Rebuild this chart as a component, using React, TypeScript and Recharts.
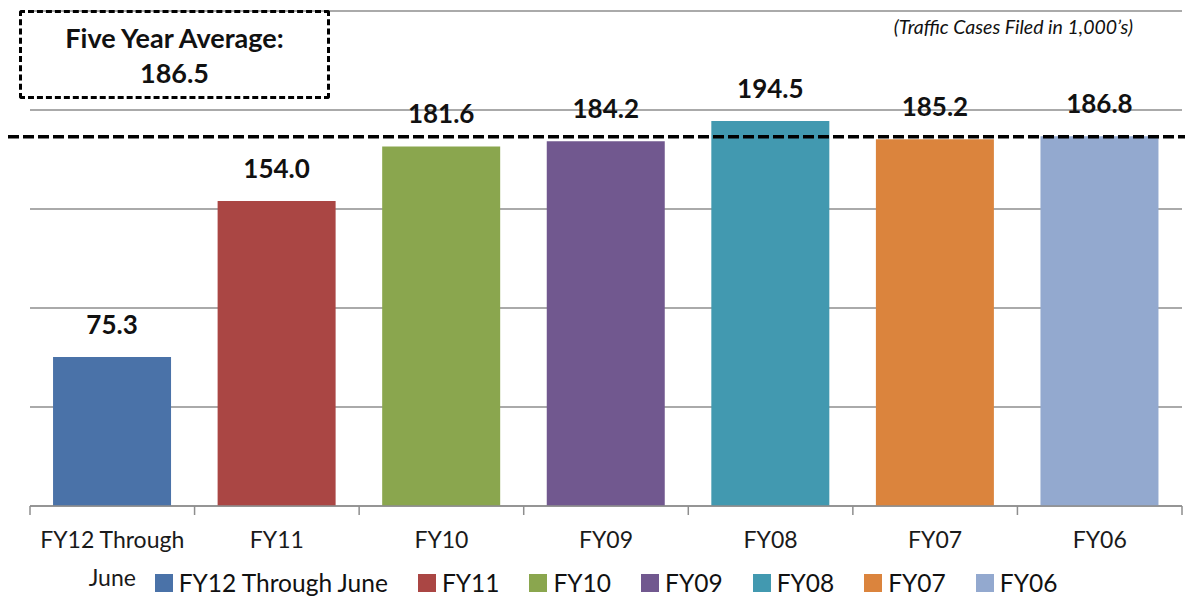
import React from 'react';
import {
  BarChart,
  Bar,
  XAxis,
  YAxis,
  CartesianGrid,
  Cell,
  LabelList,
  Legend,
  ReferenceLine,
} from 'recharts';

// Traffic cases filed per fiscal year, in thousands
const categories = ['FY12 Through June', 'FY11', 'FY10', 'FY09', 'FY08', 'FY07', 'FY06'];
const casesFiled = [75.3, 154.0, 181.6, 184.2, 194.5, 185.2, 186.8];
const barColors = ['#4A72A8', '#AA4644', '#8AA64E', '#71588F', '#4299B0', '#DB843D', '#93A9CF'];
const yTicks = [0, 50, 100, 150, 200, 250];
const fiveYearAverage = 186.5;
const averageTitle = 'Five Year Average:';
const unitsNote = '(Traffic Cases Filed in 1,000\u2019s)';

const data = categories.map((name, i) => ({ name, value: casesFiled[i], slot: i }));
const slotEdges = [...categories.map((_, i) => i), categories.length];

const FONT = 'Lato, "Open Sans", "Liberation Sans", sans-serif';
const W = 1185;
const H = 599;
const GRID = '#8e8e8e';
const EDGE_AXIS = 0;
const LABEL_AXIS = 1;

// greedy word wrap for long category names
const wrapWords = (label: string, maxChars: number) => {
  const lines: string[] = [];
  label.split(' ').forEach((word) => {
    const last = lines[lines.length - 1];
    if (last !== undefined && (last + ' ' + word).length <= maxChars) {
      lines[lines.length - 1] = last + ' ' + word;
    } else {
      lines.push(word);
    }
  });
  return lines;
};

const CategoryTick = (props: any) => {
  const { x, y, payload } = props;
  const lines = wrapWords(String(payload.value), 12);
  return (
    <text
      x={x}
      y={y + 41}
      textAnchor="middle"
      fontSize={23}
      fontFamily={FONT}
      fill="#1a1a1a"
    >
      {lines.map((line, i) => (
        <tspan key={i} x={x} dy={i === 0 ? 0 : 38}>
          {line}
        </tspan>
      ))}
    </text>
  );
};

// short tick marks between categories, hanging below the baseline
const EdgeTick = (props: any) => {
  const { x, y } = props;
  return <line x1={x} x2={x} y1={y} y2={y + 9} stroke={GRID} strokeWidth={1.5} />;
};

const ValueLabel = (props: any) => {
  const { x, y, width, value } = props;
  return (
    <text
      x={Number(x) + Number(width) / 2}
      y={Number(y) - 33}
      textAnchor="middle"
      dominantBaseline="central"
      fontSize={26}
      fontWeight={700}
      fontFamily={FONT}
      fill="#111"
    >
      {Number(value).toFixed(1)}
    </text>
  );
};

const AverageLine = (props: any) => {
  const { x1, x2, y1 } = props;
  return (
    <line
      x1={Number(x1) - 22}
      x2={Number(x2) + 3}
      y1={y1}
      y2={y1}
      stroke="#000"
      strokeWidth={3.5}
      strokeDasharray="11 4"
    />
  );
};

const LegendContent = () => (
  <div
    style={{
      display: 'flex',
      justifyContent: 'center',
      alignItems: 'center',
      gap: 30,
      fontFamily: FONT,
      fontSize: 24.5,
      color: '#111',
      lineHeight: '34px',
    }}
  >
    {categories.map((c, i) => (
      <span key={c} style={{ display: 'flex', alignItems: 'center' }}>
        <span
          style={{
            display: 'inline-block',
            width: 18,
            height: 18,
            background: barColors[i],
            marginRight: 6,
          }}
        />
        {c}
      </span>
    ))}
  </div>
);

export default function App() {
  return (
    <div style={{ position: 'absolute', left: 0, top: 0, width: W, height: H, background: '#fff' }}>
      <BarChart
        width={W}
        height={H}
        data={data}
        margin={{ top: 11, right: 3, left: 30, bottom: 0 }}
        barCategoryGap="14%"
      >
        <CartesianGrid vertical={false} stroke={GRID} strokeWidth={1.5} />
        <XAxis
          xAxisId={EDGE_AXIS}
          type="number"
          dataKey="slot"
          domain={[0, categories.length]}
          ticks={slotEdges}
          tick={<EdgeTick />}
          tickLine={false}
          tickSize={0}
          tickMargin={0}
          height={1}
          axisLine={{ stroke: GRID, strokeWidth: 1.5 }}
          allowDataOverflow
          interval={0}
        />
        <XAxis
          xAxisId={LABEL_AXIS}
          dataKey="name"
          axisLine={false}
          tickLine={false}
          tickSize={0}
          tickMargin={0}
          height={58}
          interval={0}
          tick={<CategoryTick />}
        />
        <YAxis hide domain={[0, 250]} ticks={yTicks} />
        <Legend
          verticalAlign="bottom"
          height={34}
          content={<LegendContent />}
          wrapperStyle={{ top: 566, left: 30, width: 1152, height: 34 }}
        />
        <Bar xAxisId={LABEL_AXIS} dataKey="value" isAnimationActive={false}>
          {data.map((d, i) => (
            <Cell key={d.name} fill={barColors[i]} />
          ))}
          <LabelList dataKey="value" content={<ValueLabel />} />
        </Bar>
        <ReferenceLine
          xAxisId={LABEL_AXIS}
          y={fiveYearAverage}
          ifOverflow="visible"
          shape={<AverageLine />}
        />
      </BarChart>

      <div
        style={{
          position: 'absolute',
          left: 19,
          top: 10,
          width: 311,
          height: 89,
          boxSizing: 'border-box',
          border: '3px dashed #000',
          borderRadius: 3,
          display: 'flex',
          flexDirection: 'column',
          alignItems: 'center',
          justifyContent: 'center',
          fontFamily: FONT,
          fontWeight: 700,
          fontSize: 27,
          lineHeight: '35px',
          color: '#111',
        }}
      >
        <div>{averageTitle}</div>
        <div>{fiveYearAverage.toFixed(1)}</div>
      </div>

      <div
        style={{
          position: 'absolute',
          right: 52,
          top: 15,
          fontFamily: FONT,
          fontStyle: 'italic',
          fontSize: 19.5,
          color: '#111',
        }}
      >
        {unitsNote}
      </div>
    </div>
  );
}
